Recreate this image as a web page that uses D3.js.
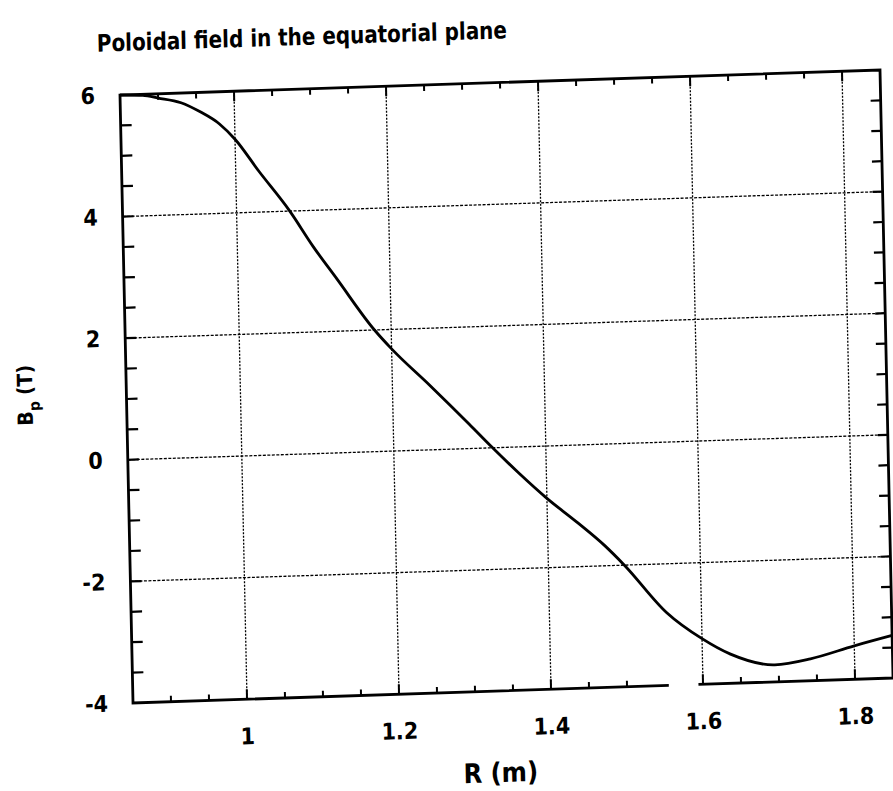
<!DOCTYPE html>
<html>
<head>
<meta charset="utf-8">
<script src="https://cdn.jsdelivr.net/npm/d3@7"></script>
<style>
  body { margin: 0; background: #fff; }
  text { font-family: "DejaVu Sans Condensed", "DejaVu Sans", sans-serif; fill: #000; }
</style>
</head>
<body>
<script>
// values
const rValues = [0.85, 0.88, 0.90, 0.93, 0.955, 0.98, 1.00, 1.03, 1.07, 1.10, 1.13, 1.178, 1.20, 1.25, 1.30, 1.33, 1.363, 1.40, 1.44, 1.474, 1.50, 1.554, 1.60, 1.637, 1.695, 1.742, 1.80, 1.85];
const bpValues = [6.0, 5.98, 5.93, 5.84, 5.68, 5.47, 5.21, 4.68, 4.0, 3.4, 2.86, 2.0, 1.68, 1.05, 0.4, 0.0, -0.42, -0.86, -1.28, -1.66, -2.0, -2.8, -3.25, -3.52, -3.72, -3.64, -3.45, -3.3];

const xMajor = [1, 1.2, 1.4, 1.6, 1.8];
const xLabels = ["1", "1.2", "1.4", "1.6", "1.8"];
const yMajor = [-4, -2, 0, 2, 4, 6];
const yLabels = ["-4", "-2", "0", "2", "4", "6"];

const titleText = "Poloidal field in the equatorial plane";
const xTitle = "R (m)";

const width = 760;
const height = 608;

var svg = d3.select("body").append("svg")
    .attr("width", 893)
    .attr("height", 791);

svg.append("rect").attr("width", 893).attr("height", 791).attr("fill", "#fff");

// the scan is a little tilted, so the whole chart sits in a skewed frame
var g = svg.append("g")
    .attr("transform", "matrix(1,-0.0329,0.0214,1,120,95)");

var x = d3.scaleLinear().domain([0.85, 1.85]).range([0, width]);
var y = d3.scaleLinear().domain([-4, 6]).range([height, 0]);

let xMinor = d3.range(0.85, 1.851, 0.05).map(v => +v.toFixed(2));
let yMinor = d3.range(-4, 6.01, 0.5);

// grid
g.selectAll(".vgrid").data(xMajor).enter().append("line")
    .attr("x1", d => x(d)).attr("x2", d => x(d))
    .attr("y1", 0).attr("y2", height)
    .attr("stroke", "#000").attr("stroke-width", 1.3)
    .attr("stroke-dasharray", "2,1.5");

g.selectAll(".hgrid").data(yMajor.filter(d => d > -4 && d < 6)).enter().append("line")
    .attr("x1", 0).attr("x2", width)
    .attr("y1", d => y(d)).attr("y2", d => y(d))
    .attr("stroke", "#000").attr("stroke-width", 1.3)
    .attr("stroke-dasharray", "3,1.5");

// ticks
let isMajorX = v => xMajor.some(m => Math.abs(m - v) < 1e-6);

let xt = xMinor.filter(v => v > 0.86 && v < 1.84);
g.selectAll(".tt").data(xt).enter().append("line")
    .attr("x1", d => x(d)).attr("x2", d => x(d))
    .attr("y1", 0).attr("y2", d => isMajorX(d) ? 10 : 6)
    .attr("stroke", "#000").attr("stroke-width", 2);
g.selectAll(".bt").data(xt.filter(v => Math.abs(v - 1.55) > 1e-6)).enter().append("line")
    .attr("x1", d => x(d)).attr("x2", d => x(d))
    .attr("y1", height).attr("y2", d => height - (isMajorX(d) ? 10 : 6))
    .attr("stroke", "#000").attr("stroke-width", 2);

let yt = yMinor.filter(v => v > -3.9 && v < 5.9);
g.selectAll(".lt").data(yt).enter().append("line")
    .attr("x1", 0).attr("x2", 11)
    .attr("y1", d => y(d)).attr("y2", d => y(d))
    .attr("stroke", "#000").attr("stroke-width", 2.2);
g.selectAll(".rt").data(yt).enter().append("line")
    .attr("x1", width).attr("x2", width - 10)
    .attr("y1", d => y(d)).attr("y2", d => y(d))
    .attr("stroke", "#000").attr("stroke-width", 2.2);

// frame (bottom edge is broken in the scan)
let frame = d3.path();
frame.moveTo(x(1.555), y(-4));
frame.lineTo(x(0.85), y(-4));
frame.lineTo(x(0.85), y(6));
frame.lineTo(x(1.85), y(6));
frame.lineTo(x(1.85), y(-4));
frame.lineTo(x(1.594), y(-4));
g.append("path").attr("d", frame.toString())
    .attr("fill", "none").attr("stroke", "#000").attr("stroke-width", 2.8);

// curve
var line = d3.line()
    .x((d, i) => x(rValues[i]))
    .y(d => y(d))
    .curve(d3.curveMonotoneX);

g.append("path")
    .datum(bpValues)
    .attr("d", line)
    .attr("fill", "none")
    .attr("stroke", "#000")
    .attr("stroke-width", 2.8);

// tick labels
g.selectAll(".xl").data(xMajor).enter().append("text")
    .attr("x", d => x(d))
    .attr("y", height + 45)
    .attr("text-anchor", "middle")
    .attr("font-size", 23)
    .attr("font-weight", "bold")
    .text((d, i) => xLabels[i]);

g.selectAll(".yl").data(yMajor).enter().append("text")
    .attr("x", -25)
    .attr("y", d => y(d) + 8)
    .attr("text-anchor", "end")
    .attr("font-size", 23)
    .attr("font-weight", "bold")
    .text((d, i) => yLabels[i]);

// titles
g.append("text")
    .attr("x", -22).attr("y", -44)
    .attr("font-size", 24)
    .attr("font-weight", "bold")
    .attr("textLength", 410)
    .attr("lengthAdjust", "spacingAndGlyphs")
    .text(titleText);

g.append("text")
    .attr("x", 366).attr("y", 699)
    .attr("text-anchor", "middle")
    .attr("font-size", 27)
    .attr("font-weight", "bold")
    .text(xTitle);

var yt2 = g.append("text")
    .attr("transform", "translate(-94,297) rotate(-90)")
    .attr("text-anchor", "middle")
    .attr("font-size", 21)
    .attr("font-weight", "bold");
yt2.append("tspan").text("B");
yt2.append("tspan").attr("dy", 7).attr("font-size", 15).text("p");
yt2.append("tspan").attr("dy", -7).text(" (T)");
</script>
</body>
</html>
